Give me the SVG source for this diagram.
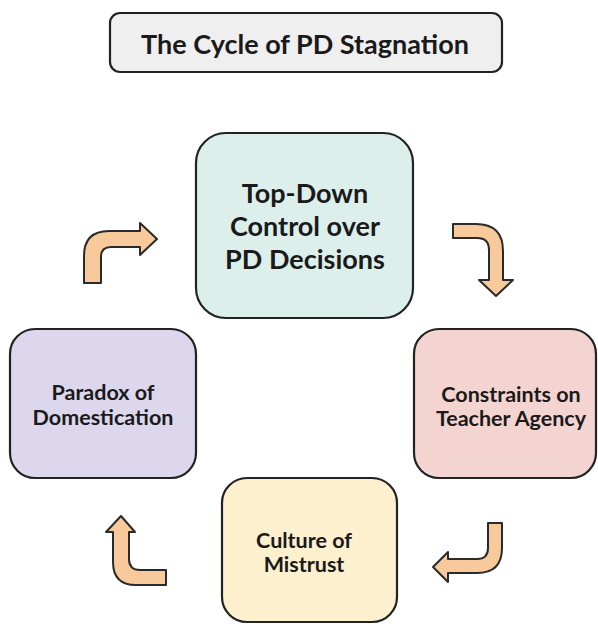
<svg xmlns="http://www.w3.org/2000/svg" width="598" height="624" viewBox="0 0 598 624">
<style>
.box{stroke:#222;stroke-width:2.2}
.t{font-family:Lato,"Open Sans","Liberation Sans",sans-serif;font-weight:bold;fill:#1a1a1a;text-anchor:middle}
.arrow{fill:#f7c99b;stroke:#2a2a2a;stroke-width:2;stroke-linejoin:round}
</style>
<rect width="598" height="624" fill="#ffffff"/>
<g id="title">
<rect class="box" x="110" y="13" width="392" height="59" rx="10" fill="#efefef"/>
<text class="t" x="305" y="54" font-size="27">The Cycle of PD Stagnation</text>
</g>
<g id="node-top">
<rect class="box" x="196" y="133" width="217" height="185" rx="30" fill="#ddefeb"/>
<text class="t" x="305" y="203" font-size="27">Top-Down</text>
<text class="t" x="305" y="236" font-size="27">Control over</text>
<text class="t" x="305" y="269" font-size="27">PD Decisions</text>
</g>
<g id="node-right">
<rect class="box" x="414" y="329" width="182" height="149" rx="25" fill="#f4d4d1"/>
<text class="t" x="511" y="402" font-size="21.5">Constraints on</text>
<text class="t" x="511" y="426" font-size="21.5">Teacher Agency</text>
</g>
<g id="node-bottom">
<rect class="box" x="222" y="478" width="175" height="144" rx="25" fill="#fdf0cf"/>
<text class="t" x="304" y="548" font-size="21.5">Culture of</text>
<text class="t" x="304" y="572" font-size="21.5">Mistrust</text>
</g>
<g id="node-left">
<rect class="box" x="10" y="329" width="186" height="149" rx="25" fill="#dcd7ec"/>
<text class="t" x="103" y="400" font-size="21.5">Paradox of</text>
<text class="t" x="103" y="425" font-size="21.5">Domestication</text>
</g>
<g id="connectors">
<path class="arrow" d="M 84 283 L 84 256 Q 84 231 109 231 L 140 231 L 140 223 L 157 239 L 140 255 L 140 247 L 111 247 Q 101 247 101 257 L 101 283 Z"/>
<path class="arrow" d="M 453 224 L 476 224 Q 503 224 503 251 L 503 280 L 513 280 L 496 296 L 479 280 L 489 280 L 489 250 Q 489 238 477 238 L 453 238 Z"/>
<path class="arrow" d="M 488 523 L 502 523 L 502 548 Q 502 573 477 573 L 448 573 L 448 582 L 433 567 L 448 552 L 448 559 L 477 559 Q 488 559 488 548 Z"/>
<path class="arrow" d="M 166 570 L 140 570 Q 129 570 129 559 L 129 532 L 135 532 L 121 516 L 106 532 L 113 532 L 113 562 Q 113 585 136 585 L 166 585 Z"/>
</g>
</svg>
